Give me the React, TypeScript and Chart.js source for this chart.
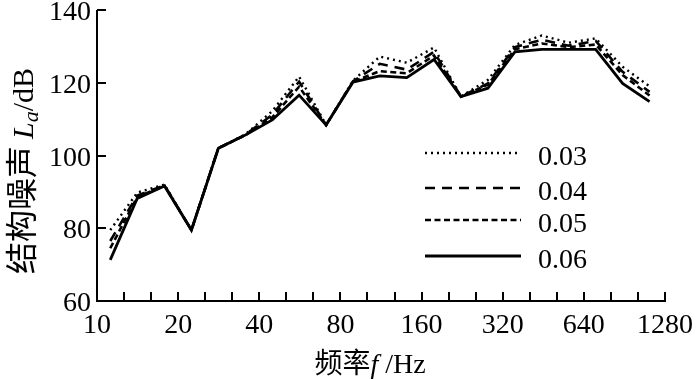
import React, { useEffect, useRef } from "react";
import { Chart, registerables } from "chart.js";

Chart.register(...registerables);

const freqs = [11.2, 14.1, 17.8, 22.4, 28.2, 35.5, 44.7, 56.2, 70.8, 89.1, 112, 141, 178, 224, 282, 355, 447, 562, 708, 891, 1122];
const s003 = [79.5, 89.8, 92.0, 79.5, 102, 105.8, 112.2, 121.7, 108.4, 120.6, 127.2, 125.5, 129.7, 116.2, 120.8, 130.4, 133.0, 131.0, 132.2, 124.4, 119.0];
const s004 = [76.5, 89.0, 91.8, 79.5, 102, 105.7, 111.2, 120.3, 108.4, 120.4, 125.2, 123.6, 128.5, 116.2, 119.8, 129.8, 131.8, 130.2, 131.5, 123.0, 117.5];
const s005 = [74.5, 88.6, 91.7, 79.5, 102, 105.6, 110.5, 118.9, 108.4, 120.3, 123.2, 122.6, 127.5, 116.2, 119.5, 129.2, 130.8, 129.8, 130.5, 122.1, 116.5];
const s006 = [71.3, 88.2, 91.6, 79.5, 102, 105.6, 109.8, 116.6, 108.4, 120.2, 121.9, 121.4, 126.4, 116.2, 118.5, 128.5, 129.2, 129.2, 129.2, 119.8, 114.8];
const seriesLabels = ["0.03", "0.04", "0.05", "0.06"];
const xTickLabels = [10, 20, 40, 80, 160, 320, 640, 1280];
const yTickLabels = [60, 80, 100, 120, 140];

const SERIF = '"Liberation Serif", "Times New Roman", serif';
const CJK = '"Noto Sans CJK SC", sans-serif';

const styles = [
  { dash: [2, 4], width: 2.4 },
  { dash: [10, 7], width: 2.6 },
  { dash: [6, 3.5], width: 2.6 },
  { dash: [], width: 2.8 },
];

const decorPlugin = {
  id: "decor",
  afterDraw(chart: any) {
    const ctx = chart.ctx as CanvasRenderingContext2D;
    const xs = chart.scales.x;
    const ys = chart.scales.y;
    const area = chart.chartArea;
    const xEnd = xs.getPixelForValue(1280);
    ctx.save();
    ctx.setLineDash([]);
    ctx.fillStyle = "#000";
    // axes
    ctx.fillRect(area.left - 1, area.top, 2, area.bottom - area.top + 1);
    ctx.fillRect(area.left - 1, area.bottom - 1, xEnd - area.left + 2, 2);
    // x ticks (1/3 octave)
    const tickLen = 9;
    for (let i = 0; i < xTickLabels.length; i++) {
      const v = xTickLabels[i];
      const vals = [v];
      if (i < xTickLabels.length - 1) {
        vals.push(v * Math.pow(2, 1 / 3), v * Math.pow(2, 2 / 3));
      }
      for (const t of vals) {
        if (t === xTickLabels[0]) continue;
        const px = xs.getPixelForValue(t);
        ctx.fillRect(Math.round(px) - 1, area.bottom - tickLen, 2, tickLen);
      }
    }
    // y ticks
    for (const v of yTickLabels) {
      if (v === yTickLabels[0]) continue;
      const py = ys.getPixelForValue(v);
      ctx.fillRect(area.left, Math.round(py) - 1, tickLen, 2);
    }
    // tick labels
    ctx.font = `28px ${SERIF}`;
    ctx.textAlign = "right";
    ctx.textBaseline = "alphabetic";
    for (const v of yTickLabels) {
      ctx.fillText(String(v), area.left - 6, ys.getPixelForValue(v) + 10);
    }
    ctx.textAlign = "center";
    for (const v of xTickLabels) {
      ctx.fillText(String(v), xs.getPixelForValue(v), area.bottom + 32);
    }
    // x title
    {
      const parts = [
        { t: "频率", f: `28px ${CJK}`, dy: 0 },
        { t: "f", f: `italic 28px ${SERIF}`, dy: 0 },
        { t: " /Hz", f: `28px ${SERIF}`, dy: 0 },
      ];
      let w = 0;
      for (const p of parts) { ctx.font = p.f; w += ctx.measureText(p.t).width; }
      let x = 370 - w / 2;
      const y = 373;
      ctx.textAlign = "left";
      ctx.textBaseline = "alphabetic";
      for (const p of parts) {
        ctx.font = p.f;
        ctx.fillText(p.t, x, y + p.dy);
        x += ctx.measureText(p.t).width;
      }
    }
    // y title
    {
      const parts = [
        { t: "结构噪声 ", f: `32px ${CJK}`, dy: 0 },
        { t: "L", f: `italic 30px ${SERIF}`, dy: 0 },
        { t: "a", f: `italic 22px ${SERIF}`, dy: 5 },
        { t: "/dB", f: `30px ${SERIF}`, dy: 0 },
      ];
      let w = 0;
      for (const p of parts) { ctx.font = p.f; w += ctx.measureText(p.t).width; }
      ctx.save();
      ctx.translate(33, 171);
      ctx.rotate(-Math.PI / 2);
      let x = -w / 2;
      ctx.textAlign = "left";
      ctx.textBaseline = "alphabetic";
      for (const p of parts) {
        ctx.font = p.f;
        ctx.fillText(p.t, x, p.dy);
        x += ctx.measureText(p.t).width;
      }
      ctx.restore();
    }
    // legend
    const lx0 = area.left + 328;
    const lx1 = area.left + 424;
    const lys = [153, 188, 220, 256];
    ctx.strokeStyle = "#000";
    for (let i = 0; i < seriesLabels.length; i++) {
      const y = lys[i];
      ctx.lineWidth = styles[i].width;
      ctx.setLineDash(styles[i].dash);
      ctx.beginPath();
      ctx.moveTo(lx0, y);
      ctx.lineTo(lx1, y);
      ctx.stroke();
      ctx.setLineDash([]);
      ctx.font = `28px ${SERIF}`;
      ctx.textAlign = "left";
      ctx.textBaseline = "alphabetic";
      ctx.fillText(seriesLabels[i], lx1 + 17, y + 12);
    }
    ctx.restore();
  },
};

export default function App() {
  const ref = useRef<HTMLCanvasElement | null>(null);
  useEffect(() => {
    if (!ref.current) return;
    const all = [s003, s004, s005, s006];
    const chart = new Chart(ref.current, {
      type: "line",
      data: {
        datasets: all.map((s, i) => ({
          label: seriesLabels[i],
          data: freqs.map((f, j) => ({ x: f, y: s[j] })),
          borderColor: "#000",
          borderWidth: styles[i].width,
          borderDash: styles[i].dash,
          pointRadius: 0,
          fill: false,
          tension: 0,
        })),
      },
      options: {
        animation: false,
        responsive: false,
        maintainAspectRatio: false,
        layout: { padding: { left: 97, right: 35, top: 10, bottom: 78 } },
        plugins: { legend: { display: false }, tooltip: { enabled: false } },
        scales: {
          x: { type: "logarithmic", min: 10, max: 1280, display: false },
          y: { type: "linear", min: 60, max: 140, display: false },
        },
      },
      plugins: [decorPlugin],
    });
    return () => chart.destroy();
  }, []);
  return (
    <div style={{ position: "fixed", left: 0, top: 0, width: 700, height: 379, background: "#fff" }}>
      <canvas ref={ref} width={700} height={379} style={{ width: 700, height: 379 }} />
    </div>
  );
}
